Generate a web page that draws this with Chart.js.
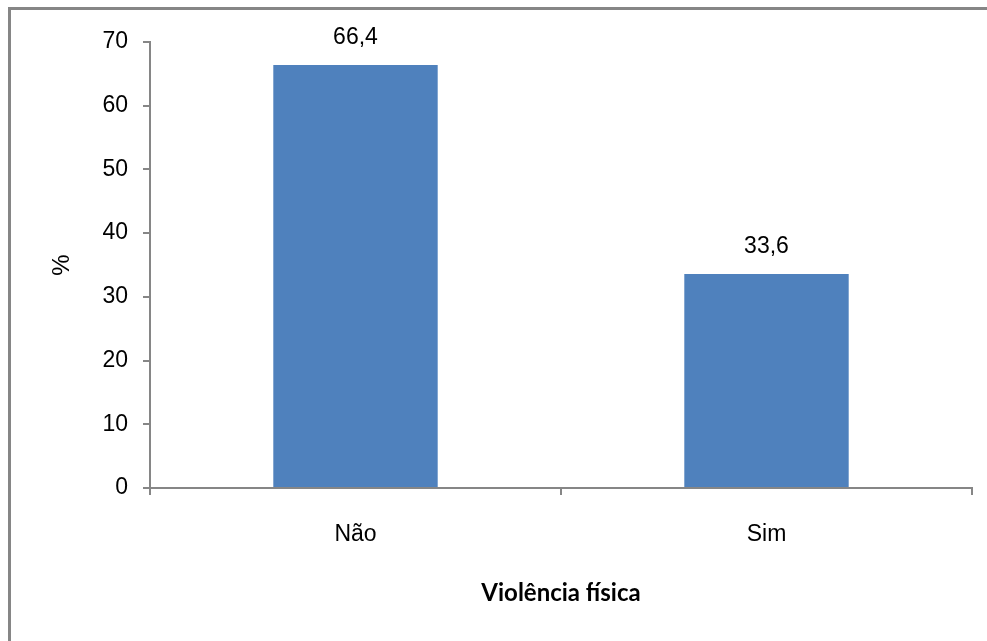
<!DOCTYPE html>
<html>
<head>
<meta charset="utf-8">
<script src="https://cdn.jsdelivr.net/npm/chart.js@4/dist/chart.umd.min.js"></script>
<style>
  html, body { margin: 0; padding: 0; background: #fff; overflow: hidden; }
  #frame {
    position: absolute; left: 8px; top: 7px; width: 2000px; height: 2000px;
    border-top: 3px solid #868686; border-left: 3px solid #868686;
  }
  #wrap { position: absolute; left: 0; top: 0; width: 987px; height: 641px; }
</style>
</head>
<body>
<div id="frame"></div>
<div id="wrap"><canvas id="chart"></canvas></div>
<script>
// data
const categories = ['Não', 'Sim'];
const percentValues = [66.4, 33.6];
const valueLabels = ['66,4', '33,6'];
const yTicks = [0, 10, 20, 30, 40, 50, 60, 70];

const axisColor = '#868686';
const barColor = '#4F81BD';
const tickFont = { family: 'Liberation Sans', size: 23 };

// value labels above each bar
const barLabels = {
  id: 'barLabels',
  afterDatasetsDraw(chart) {
    const c = chart.ctx;
    const meta = chart.getDatasetMeta(0);
    c.save();
    c.font = '23px "Liberation Sans"';
    c.fillStyle = '#000';
    c.textAlign = 'center';
    c.textBaseline = 'alphabetic';
    meta.data.forEach((bar, i) => {
      c.fillText(valueLabels[i], bar.x, bar.y - 21);
    });
    c.restore();
  }
};

new Chart(document.getElementById('chart').getContext('2d'), {
  type: 'bar',
  data: {
    labels: categories,
    datasets: [{
      data: percentValues,
      backgroundColor: barColor,
      borderWidth: 0,
      categoryPercentage: 1.0,
      barPercentage: 0.4
    }]
  },
  options: {
    responsive: true,
    maintainAspectRatio: false,
    animation: false,
    layout: { padding: { top: 42, right: 15, left: 0, bottom: 0 } },
    plugins: {
      legend: { display: false },
      tooltip: { enabled: false }
    },
    scales: {
      x: {
        afterFit: (scale) => { scale.height = 153; },
        grid: { drawOnChartArea: false, color: axisColor, lineWidth: 2, tickLength: 7, offset: true },
        border: { color: axisColor, width: 2 },
        ticks: { color: '#000', font: tickFont, padding: 26, maxRotation: 0 },
        title: {
          display: true,
          text: 'Violência física',
          color: '#000',
          font: { family: 'Lato', size: 24, weight: 'bold' },
          padding: { top: 0, bottom: 33 }
        }
      },
      y: {
        min: 0,
        max: 70,
        afterFit: (scale) => { scale.width = 150; },
        afterBuildTicks: (scale) => { scale.ticks = yTicks.map(v => ({ value: v })); },
        grid: { drawOnChartArea: false, color: axisColor, lineWidth: 2, tickLength: 7 },
        border: { color: axisColor, width: 2 },
        ticks: { color: '#000', font: tickFont, padding: 15 },
        title: {
          display: true,
          text: '%',
          color: '#000',
          font: { family: 'Liberation Sans', size: 24 },
          padding: { top: 48, bottom: 0 }
        }
      }
    }
  },
  plugins: [barLabels]
});
</script>
</body>
</html>
